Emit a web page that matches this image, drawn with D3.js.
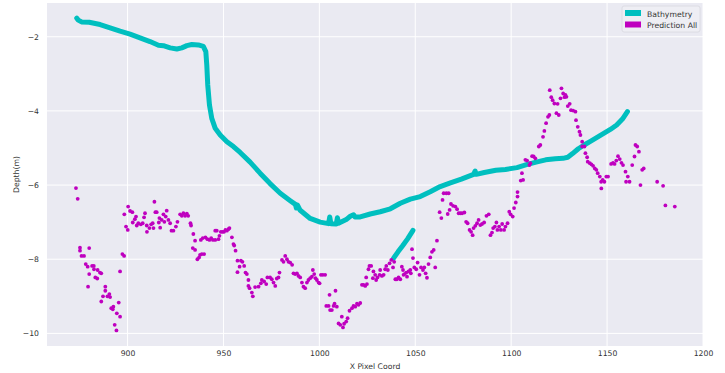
<!DOCTYPE html>
<html>
<head>
<meta charset="utf-8">
<script src="https://cdn.jsdelivr.net/npm/d3@7"></script>
<style>
  html, body { margin: 0; padding: 0; background: #fff; }
  svg text { font-family: "DejaVu Sans", sans-serif; fill: #333; }
</style>
</head>
<body>
<div id="chart"></div>
<script>
// x ticks / y ticks shown on the axes
const xTicks = [900, 950, 1000, 1050, 1100, 1150, 1200];
const yTicks = [-10, -8, -6, -4, -2];

const seriesNames = ['Bathymetry', 'Prediction All'];

// bathymetry trace, main profile [x, depth]
const bathyMain = [
  [873.5,-1.50],[874.3,-1.55],[876,-1.60],[880,-1.61],[885.7,-1.67],[890.9,-1.76],[896.1,-1.85],
  [901.3,-1.93],[906.5,-2.03],[911.7,-2.13],[916.1,-2.23],[918.7,-2.24],[922.2,-2.30],[925.7,-2.33],
  [928.3,-2.30],[930.9,-2.24],[933.5,-2.21],[936.9,-2.22],[939.5,-2.26],[940.8,-2.40],[941.3,-2.76],
  [941.8,-3.30],[942.7,-3.84],[943.9,-4.20],[945.7,-4.47],[948.3,-4.65],[951.8,-4.83],[955.2,-4.96],
  [958.7,-5.12],[963.9,-5.38],[969.1,-5.68],[974.3,-5.96],[979.6,-6.22],[984.8,-6.42],[987.5,-6.52],
  [988,-6.62],[988.6,-6.54],[990,-6.68],[995.2,-6.90],[1000.4,-7.00],[1004.8,-7.04],[1005.4,-6.86],
  [1006,-7.04],[1008.8,-7.05],[1009.4,-6.88],[1010,-7.03],[1014,-6.93],[1016.1,-6.84],[1017.8,-6.80],
  [1018.6,-6.86],[1021.3,-6.86],[1026.5,-6.78],[1031.7,-6.72],[1037,-6.64],[1042.2,-6.49],
  [1047.4,-6.38],[1052.6,-6.31],[1057.8,-6.18],[1063,-6.04],[1068.3,-5.94],[1074,-5.84],
  [1080.4,-5.71],[1081.2,-5.62],[1081.8,-5.71],[1086,-5.66],[1092,-5.60],[1097,-5.58],[1103,-5.53],
  [1108,-5.45],[1113,-5.38],[1118,-5.32],[1123,-5.29],[1127,-5.28],[1129.5,-5.25],[1132,-5.15],
  [1135,-5.02],[1138,-4.92],[1141.3,-4.82],[1146.5,-4.66],[1151.7,-4.50],[1155,-4.38],[1158,-4.22],
  [1160.6,-4.02]
];

// short bathymetry branch near x = 1040..1049
const bathyBranch = [
  [1038.7,-7.97],[1041,-7.80],[1043.5,-7.63],[1046,-7.45],[1048.8,-7.22]
];

// prediction points [x, depth]
const prediction = [
  [873.1,-6.08],[874.0,-6.37],[875.2,-7.69],[875.2,-7.77],[876.0,-7.91],[877.3,-7.91],[878.2,-8.13],
  [879.2,-8.20],[879.4,-8.74],[880.0,-7.70],[880.0,-8.40],[881.5,-8.18],[882.4,-8.18],[882.5,-8.27],
  [883.2,-8.49],[884.2,-8.52],[884.4,-8.29],[885.6,-8.36],[886.3,-8.38],[886.3,-9.14],[887.2,-9.00],
  [888.4,-8.74],[888.4,-8.85],[889.5,-9.00],[890.5,-8.94],[890.9,-9.02],[891.5,-9.32],[892.3,-9.35],
  [892.6,-9.28],[893.3,-9.77],[894.2,-9.92],[894.4,-9.46],[895.4,-9.17],[896.1,-8.33],[896.1,-9.55],
  [897.3,-7.86],[898.2,-7.91],[898.3,-6.79],[899.2,-7.12],[900.1,-7.21],[900.3,-6.58],[901.3,-6.70],
  [902.5,-6.73],[902.7,-7.01],[903.8,-6.92],[904.4,-6.85],[904.8,-7.09],[905.6,-7.03],[906.9,-7.06],
  [907.9,-7.03],[908.6,-6.87],[909.1,-6.76],[910.0,-7.09],[910.1,-7.26],[911.4,-7.16],[912.3,-7.06],
  [913.1,-7.03],[913.5,-7.16],[914.0,-6.45],[914.5,-6.73],[915.2,-6.73],[916.3,-7.01],[916.6,-6.89],
  [917.0,-7.15],[917.8,-6.94],[918.7,-6.79],[919.2,-6.99],[919.9,-6.85],[920.4,-6.69],[921.3,-6.94],
  [922.2,-7.03],[922.9,-7.23],[923.9,-7.23],[925.2,-7.12],[926.0,-6.99],[927.4,-6.79],[928.3,-6.83],
  [929.1,-6.76],[930.0,-6.83],[930.9,-6.77],[931.6,-6.83],[932.8,-7.03],[933.1,-7.09],[934.3,-7.32],
  [934.0,-7.70],[935.2,-7.50],[935.2,-7.75],[936.4,-8.00],[937.3,-7.95],[937.8,-7.88],[938.2,-7.48],
  [938.7,-7.86],[939.9,-7.86],[939.2,-7.43],[940.6,-7.41],[941.6,-7.46],[942.7,-7.48],[943.6,-7.43],
  [944.5,-7.48],[945.7,-7.48],[945.7,-7.23],[946.5,-7.23],[947.4,-7.46],[947.9,-7.37],[948.6,-7.26],
  [949.5,-7.26],[950.3,-7.26],[951.0,-7.21],[951.8,-7.23],[952.6,-7.19],[953.1,-7.16],[954.4,-7.41],
  [955.2,-7.59],[955.6,-7.63],[956.3,-7.77],[957.3,-8.04],[957.3,-8.35],[958.4,-8.20],[959.1,-8.04],
  [959.9,-8.07],[960.8,-8.18],[961.5,-8.36],[962.2,-8.40],[963.0,-8.56],[963.0,-8.72],[963.6,-8.78],
  [964.8,-8.90],[965.3,-9.00],[966.5,-8.75],[968.3,-8.74],[969.5,-8.65],[970.0,-8.56],[971.2,-8.60],
  [972.3,-8.67],[972.9,-8.49],[974.3,-8.49],[975.2,-8.54],[976.1,-8.63],[977.0,-8.72],[977.8,-8.52],
  [978.7,-8.49],[979.2,-8.36],[980.5,-8.02],[981.3,-8.07],[982.2,-7.91],[983.1,-8.00],[983.9,-8.07],
  [984.8,-8.09],[985.8,-8.15],[986.5,-8.38],[987.4,-8.40],[988.3,-8.38],[989.1,-8.45],[990.0,-8.49],
  [990.9,-8.63],[991.7,-8.74],[992.6,-8.78],[993.5,-8.63],[994.3,-8.56],[995.2,-8.51],[996.1,-8.47],
  [996.6,-8.29],[997.3,-8.40],[998.0,-8.51],[998.7,-8.56],[999.6,-8.63],[1000.1,-8.65],[1000.8,-8.42],
  [1001.8,-8.42],[1003.0,-8.42],[1003.6,-9.26],[1004.8,-9.26],[1005.3,-8.96],[1005.6,-9.37],
  [1006.5,-9.37],[1007.4,-9.26],[1007.9,-9.20],[1008.4,-8.85],[1009.1,-9.28],[1010.0,-9.73],
  [1010.9,-9.77],[1011.7,-9.55],[1012.3,-9.84],[1012.9,-9.74],[1014.0,-9.68],[1014.7,-9.59],
  [1015.7,-9.39],[1017.0,-9.32],[1017.8,-9.26],[1018.7,-9.28],[1019.6,-9.20],[1020.4,-9.23],
  [1021.3,-9.18],[1022.2,-8.69],[1023.0,-8.69],[1023.9,-8.72],[1024.4,-8.49],[1024.8,-8.67],
  [1025.6,-8.27],[1026.1,-8.18],[1027.0,-8.18],[1027.9,-8.51],[1028.2,-8.33],[1029.1,-8.42],
  [1029.6,-8.56],[1030.3,-8.49],[1031.4,-8.42],[1031.7,-8.29],[1032.6,-8.45],[1033.5,-8.42],
  [1034.3,-8.27],[1034.9,-8.18],[1035.7,-8.29],[1036.6,-8.11],[1037.5,-8.02],[1038.4,-8.22],
  [1039.0,-8.07],[1039.6,-8.54],[1040.4,-8.54],[1041.3,-8.49],[1042.2,-8.54],[1043.0,-8.20],
  [1043.6,-8.29],[1043.9,-8.42],[1044.4,-8.40],[1045.3,-8.36],[1045.7,-8.47],[1046.5,-8.33],
  [1047.4,-8.29],[1047.7,-8.38],[1048.3,-7.73],[1048.8,-7.97],[1049.5,-8.22],[1050.5,-8.27],
  [1051.2,-8.09],[1052.2,-8.42],[1053.0,-8.22],[1054.0,-8.29],[1054.7,-8.22],[1055.4,-8.38],
  [1056.1,-8.50],[1056.9,-8.13],[1057.8,-7.95],[1058.7,-7.80],[1059.6,-7.75],[1060.4,-8.22],
  [1061.3,-7.50],[1062.7,-6.73],[1063.6,-6.89],[1064.2,-6.40],[1064.8,-6.22],[1066.2,-6.22],
  [1067.4,-6.22],[1066.9,-6.78],[1067.9,-6.67],[1068.6,-6.51],[1069.7,-6.56],[1070.9,-6.58],
  [1071.8,-6.65],[1072.6,-6.76],[1073.5,-6.76],[1074.4,-6.76],[1075.6,-6.74],[1076.5,-6.99],
  [1077.3,-7.03],[1078.3,-7.21],[1079.1,-7.26],[1079.9,-7.35],[1080.4,-7.16],[1081.3,-7.10],
  [1082.2,-7.03],[1083.0,-6.94],[1083.9,-7.08],[1084.8,-7.05],[1085.9,-7.01],[1087.1,-6.83],
  [1088.3,-6.79],[1089.2,-7.35],[1090.0,-7.28],[1090.6,-7.16],[1091.5,-7.12],[1092.3,-7.01],
  [1092.8,-7.21],[1093.7,-7.12],[1094.6,-7.21],[1095.3,-7.05],[1096.3,-7.21],[1097.0,-7.12],
  [1098.1,-7.03],[1099.0,-6.72],[1099.7,-6.79],[1100.8,-6.85],[1101.5,-6.62],[1102.4,-6.47],
  [1103.3,-6.31],[1103.3,-6.19],[1105.0,-5.88],[1105.6,-5.68],[1106.2,-5.86],[1107.4,-5.32],
  [1108.3,-5.34],[1109.5,-5.46],[1110.0,-5.41],[1110.9,-5.22],[1111.7,-5.23],[1112.6,-5.28],
  [1114.4,-4.96],[1115.2,-4.92],[1116.6,-4.70],[1117.3,-4.54],[1118.2,-4.33],[1119.2,-4.16],
  [1119.9,-4.11],[1120.1,-3.44],[1120.9,-3.63],[1121.6,-3.71],[1122.5,-3.80],[1123.6,-4.06],
  [1124.2,-3.81],[1124.8,-4.11],[1125.7,-3.66],[1126.2,-3.39],[1127.1,-3.53],[1127.8,-3.63],
  [1128.3,-3.57],[1128.8,-3.62],[1129.5,-3.87],[1130.5,-3.81],[1131.2,-3.98],[1132.3,-3.99],
  [1133.5,-4.02],[1133.8,-4.25],[1134.7,-4.43],[1135.6,-4.56],[1136.1,-4.65],[1137.0,-4.83],
  [1137.0,-4.96],[1138.2,-4.96],[1138.7,-5.14],[1139.6,-5.25],[1139.9,-5.37],[1141.0,-5.41],
  [1141.8,-5.44],[1142.7,-5.48],[1143.6,-5.55],[1144.4,-5.59],[1145.1,-5.68],[1146.2,-5.77],
  [1146.9,-5.91],[1147.0,-6.09],[1147.7,-5.86],[1148.6,-5.91],[1149.6,-5.77],[1150.5,-5.77],
  [1152.1,-5.43],[1153.1,-5.40],[1153.9,-5.43],[1154.8,-5.34],[1155.7,-5.22],[1156.6,-5.30],
  [1157.5,-5.40],[1158.3,-5.46],[1159.6,-5.64],[1159.9,-5.91],[1160.8,-5.77],[1161.7,-5.91],
  [1163.1,-5.46],[1164.3,-5.23],[1164.8,-4.92],[1165.7,-4.96],[1166.6,-5.10],[1167.4,-6.00],
  [1168.3,-5.59],[1169.1,-5.55],[1176.1,-5.91],[1179.2,-6.02],[1180.4,-6.55],[1185.3,-6.58]
];

const width = 725, height = 373;
const margin = {top: 3, right: 22, bottom: 27, left: 47};
const innerW = width - margin.left - margin.right;
const innerH = height - margin.top - margin.bottom;

const teal = '#00bfbf', magenta = '#bf00bf';

const x = d3.scaleLinear().domain([858, 1200]).range([0, innerW]);
const y = d3.scaleLinear().domain([-10.34, -1.09]).range([innerH, 0]);

const svg = d3.select('#chart').append('svg')
  .attr('width', width).attr('height', height);

const g = svg.append('g').attr('transform', `translate(${margin.left},${margin.top})`);

g.append('rect').attr('width', innerW).attr('height', innerH).attr('fill', '#eaeaf2');

// grid
g.selectAll('.gx').data(xTicks).join('line')
  .attr('x1', d => x(d)).attr('x2', d => x(d)).attr('y1', 0).attr('y2', innerH)
  .attr('stroke', '#fff').attr('stroke-width', 1);
g.selectAll('.gy').data(yTicks).join('line')
  .attr('y1', d => y(d)).attr('y2', d => y(d)).attr('x1', 0).attr('x2', innerW)
  .attr('stroke', '#fff').attr('stroke-width', 1);

const fmt = d => d < 0 ? '\u2212' + Math.abs(d) : String(d);

const xAxis = g.append('g').attr('transform', `translate(0,${innerH})`)
  .call(d3.axisBottom(x).tickValues(xTicks).tickSize(0).tickPadding(5).tickFormat(fmt));
const yAxis = g.append('g')
  .call(d3.axisLeft(y).tickValues(yTicks).tickSize(0).tickPadding(8).tickFormat(fmt));
[xAxis, yAxis].forEach(a => {
  a.select('.domain').remove();
  a.selectAll('text').style('font-size', '7.7px').attr('fill', '#333');
});

// bathymetry
const line = d3.line().x(d => x(d[0])).y(d => y(d[1])).curve(d3.curveLinear);
[bathyMain, bathyBranch].forEach(seg => {
  g.append('path').datum(seg)
    .attr('fill', 'none').attr('stroke', teal).attr('stroke-width', 5)
    .attr('stroke-linejoin', 'round').attr('stroke-linecap', 'round')
    .attr('d', line);
});

// prediction points
g.selectAll('.pred').data(prediction).join('circle')
  .attr('cx', d => x(d[0])).attr('cy', d => y(d[1])).attr('r', 1.9)
  .attr('fill', magenta);

// axis labels
svg.append('text')
  .attr('x', margin.left + innerW / 2).attr('y', 369)
  .attr('text-anchor', 'middle').style('font-size', '7.7px')
  .text('X Pixel Coord');
svg.append('text')
  .attr('transform', `translate(19,${margin.top + innerH / 2}) rotate(-90)`)
  .attr('text-anchor', 'middle').style('font-size', '7.7px')
  .text('Depth(m)');

// legend
const lg = svg.append('g').attr('transform', 'translate(622,6)');
lg.append('rect').attr('width', 78).attr('height', 26).attr('rx', 2)
  .attr('fill', '#eeeef4').attr('stroke', '#d8d8e0').attr('stroke-width', 0.8);
const items = lg.selectAll('.item').data(seriesNames).join('g')
  .attr('transform', (d, i) => `translate(3,${4 + i * 11.5})`);
items.append('rect').attr('width', 16).attr('height', 6)
  .attr('fill', (d, i) => i === 0 ? teal : magenta);
items.append('text').attr('x', 22).attr('y', 6.5)
  .style('font-size', '7.7px').text(d => d);
</script>
</body>
</html>
